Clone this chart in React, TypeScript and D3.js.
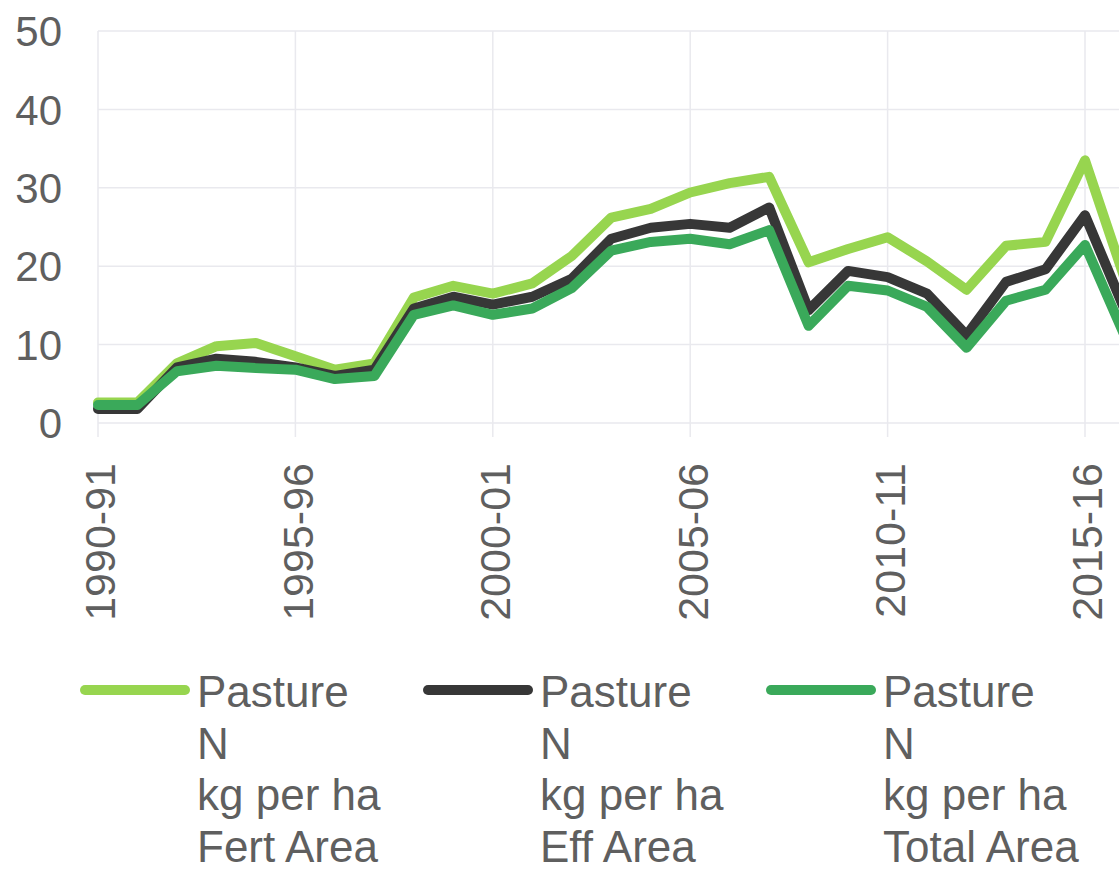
import React, { useEffect, useRef } from 'react';
import * as d3 from 'd3';

const categories = [
  '1990-91', '1991-92', '1992-93', '1993-94', '1994-95', '1995-96', '1996-97',
  '1997-98', '1998-99', '1999-00', '2000-01', '2001-02', '2002-03', '2003-04',
  '2004-05', '2005-06', '2006-07', '2007-08', '2008-09', '2009-10', '2010-11',
  '2011-12', '2012-13', '2013-14', '2014-15', '2015-16', '2016-17',
];

// kg N per ha, fertilised area
const fertArea = [
  2.6, 2.6, 7.6, 9.8, 10.2, 8.5, 6.8, 7.6, 16.0, 17.5, 16.5, 17.8, 21.3, 26.2,
  27.3, 29.4, 30.6, 31.4, 20.5, 22.2, 23.7, 20.6, 17.0, 22.6, 23.1, 33.5, 18.5,
];
// kg N per ha, effective area
const effArea = [
  1.8, 1.8, 7.1, 8.2, 7.8, 7.1, 6.0, 6.8, 14.6, 16.1, 15.1, 16.1, 18.4, 23.5,
  24.9, 25.4, 24.9, 27.5, 14.4, 19.4, 18.6, 16.5, 11.2, 18.0, 19.6, 26.5, 14.5,
];
// kg N per ha, total area
const totalArea = [
  2.3, 2.3, 6.6, 7.3, 7.0, 6.8, 5.6, 6.0, 13.8, 15.0, 13.8, 14.6, 17.2, 22.0,
  23.1, 23.5, 22.8, 24.6, 12.4, 17.5, 16.9, 14.8, 9.6, 15.6, 17.0, 22.7, 11.2,
];

const yTicks = [0, 10, 20, 30, 40, 50];
const labelEvery = 5;

const seriesNames = [
  ['Pasture', 'N', 'kg per ha', 'Fert Area'],
  ['Pasture', 'N', 'kg per ha', 'Eff Area'],
  ['Pasture', 'N', 'kg per ha', 'Total Area'],
];
const seriesColors = ['#97d54f', '#373737', '#3aa95a'];

const W = 1119;
const H = 870;

const App = () => {
  const ref = useRef<SVGSVGElement | null>(null);

  useEffect(() => {
    if (!ref.current) return;
    const svg = d3.select(ref.current);
    svg.selectAll('*').remove();

    const x0 = 98;
    const step = 39.48;
    const x = d3.scaleLinear()
      .domain([0, categories.length - 1])
      .range([x0, x0 + step * (categories.length - 1)]);
    const y = d3.scaleLinear().domain([0, 50]).range([423, 31]);

    const font = "'Liberation Sans', Arial, sans-serif";
    const textColor = '#5f5f5f';
    const gridColor = '#e9e9ee';

    const g = svg.append('g');

    // horizontal gridlines
    g.selectAll('line.hgrid')
      .data(yTicks)
      .enter()
      .append('line')
      .attr('x1', x0)
      .attr('x2', W + 50)
      .attr('y1', d => y(d))
      .attr('y2', d => y(d))
      .attr('stroke', gridColor)
      .attr('stroke-width', 1.5);

    // vertical gridlines at labelled categories
    const labelled = categories.map((c, i) => i).filter(i => i % labelEvery === 0);
    g.selectAll('line.vgrid')
      .data(labelled)
      .enter()
      .append('line')
      .attr('x1', d => x(d))
      .attr('x2', d => x(d))
      .attr('y1', y(50))
      .attr('y2', y(0) + 14)
      .attr('stroke', gridColor)
      .attr('stroke-width', 1.5);

    // y axis labels
    g.selectAll('text.ylab')
      .data(yTicks)
      .enter()
      .append('text')
      .attr('x', 62)
      .attr('y', d => y(d))
      .attr('dy', '0.36em')
      .attr('text-anchor', 'end')
      .attr('font-family', font)
      .attr('font-size', 42)
      .attr('fill', textColor)
      .text(d => d);

    // x axis labels
    g.selectAll('text.xlab')
      .data(labelled)
      .enter()
      .append('text')
      .attr('transform', d => `translate(${x(d) + 2},${y(0) + 40}) rotate(-90)`)
      .attr('dy', '0.36em')
      .attr('text-anchor', 'end')
      .attr('font-family', font)
      .attr('font-size', 43)
      .attr('fill', textColor)
      .text(d => categories[d]);

    // lines
    const line = d3.line<number>()
      .x((d, i) => x(i))
      .y(d => y(d));

    [fertArea, effArea, totalArea].forEach((s, k) => {
      g.append('path')
        .datum(s)
        .attr('d', line)
        .attr('fill', 'none')
        .attr('stroke', seriesColors[k])
        .attr('stroke-width', 10)
        .attr('stroke-linejoin', 'round')
        .attr('stroke-linecap', 'round');
    });

    // legend
    const legend = g.append('g');
    const item = legend.selectAll('g.item')
      .data(seriesNames)
      .enter()
      .append('g')
      .attr('transform', (d, i) => `translate(${85 + i * 343},0)`);

    item.append('line')
      .attr('x1', 0)
      .attr('x2', 100)
      .attr('y1', 690)
      .attr('y2', 690)
      .attr('stroke', (d, i) => seriesColors[i])
      .attr('stroke-width', 10)
      .attr('stroke-linecap', 'round');

    item.each(function (lines) {
      const t = d3.select(this);
      lines.forEach((txt, j) => {
        t.append('text')
          .attr('x', 112)
          .attr('y', 707 + j * 51.5)
          .attr('font-family', font)
          .attr('font-size', 44)
          .attr('fill', textColor)
          .text(txt);
      });
    });
  }, []);

  return (
    <svg
      ref={ref}
      width={W}
      height={H}
      style={{ position: 'absolute', left: 0, top: 0, background: '#fff' }}
    />
  );
};

export default App;
